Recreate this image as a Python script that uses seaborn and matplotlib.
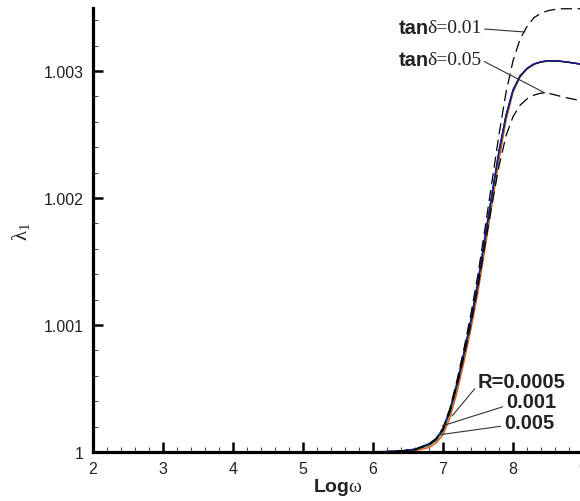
import matplotlib
matplotlib.use("Agg")
import matplotlib.pyplot as plt
import seaborn as sns
from matplotlib.ticker import MultipleLocator, FixedLocator, FixedFormatter

# ---------------- data ----------------
log_omega = [2.0, 3.0, 4.0, 5.0, 5.5, 6.0, 6.2, 6.4, 6.6, 6.8,
             6.9, 7.0, 7.1, 7.2, 7.3, 7.4, 7.5, 7.6, 7.7, 7.8,
             7.9, 8.0, 8.1, 8.2, 8.3, 8.4, 8.5, 8.6, 8.7, 8.8, 8.9, 9.0]

lam_black = [1.0, 1.0, 1.0, 1.0, 1.0, 1.000001, 1.000003, 1.000008, 1.00002, 1.00006,
             1.0001, 1.00018, 1.00033, 1.00054, 1.00078, 1.00104, 1.00134, 1.00169, 1.00203, 1.00237,
             1.00265, 1.00285, 1.00296, 1.00302, 1.003055, 1.003072, 1.00308, 1.00308, 1.003075, 1.003068, 1.00306, 1.00305]
lam_R0005 = [1.0, 1.0, 1.0, 1.0, 1.0, 1.000002, 1.000004, 1.000009, 1.000023, 1.000066,
             1.000105, 1.000185, 1.000335, 1.000545, 1.000785, 1.001045, 1.001345, 1.001695, 1.002035, 1.002372,
             1.002652, 1.002851, 1.002961, 1.003021, 1.003056, 1.003073, 1.003081, 1.003081, 1.003076, 1.003069, 1.003061, 1.003051]
lam_R001 = [1.0, 1.0, 1.0, 1.0, 1.0, 1.000001, 1.000002, 1.000006, 1.000016, 1.00005,
            1.000088, 1.000162, 1.000305, 1.00051, 1.00075, 1.00101, 1.001305, 1.001655, 1.002, 1.002345,
            1.002635, 1.002843, 1.002957, 1.003018, 1.003054, 1.003071, 1.003079, 1.00308, 1.003075, 1.003068, 1.00306, 1.00305]
lam_R005 = [1.0, 1.0, 1.0, 1.0, 1.0, 1.0, 1.000001, 1.000003, 1.00001, 1.000035,
            1.00007, 1.000135, 1.00027, 1.00047, 1.00071, 1.00097, 1.00126, 1.0016, 1.00195, 1.0023,
            1.00261, 1.00283, 1.00295, 1.003015, 1.003052, 1.00307, 1.003078, 1.003079, 1.003074, 1.003067, 1.003059, 1.003049]
lam_tan001 = [1.0, 1.0, 1.0, 1.0, 1.0, 1.000001, 1.000003, 1.000008, 1.000021, 1.000062,
              1.000105, 1.00019, 1.000345, 1.000565, 1.000815, 1.00109, 1.0014, 1.00176, 1.00213, 1.0025,
              1.00283, 1.00308, 1.00325, 1.00335, 1.00342, 1.003455, 1.003475, 1.003485, 1.00349, 1.00349, 1.00349, 1.00349]
lam_tan005 = [1.0, 1.0, 1.0, 1.0, 1.0, 1.000001, 1.000003, 1.000008, 1.000019, 1.000058,
              1.000096, 1.000172, 1.000318, 1.00052, 1.000755, 1.00101, 1.0013, 1.00163, 1.00195, 1.00225,
              1.00249, 1.00264, 1.00273, 1.00278, 1.00281, 1.002826, 1.002825, 1.002812, 1.002798, 1.002785, 1.002774, 1.002764]

x_ticks = [2, 3, 4, 5, 6, 7, 8, 9]
x_tick_labels = ["2", "3", "4", "5", "6", "7", "8", "9"]
y_ticks = [1.0, 1.001, 1.002, 1.003]
y_tick_labels = ["1", "1.001", "1.002", "1.003"]

# ---------------- style ----------------
sns.set_theme(style="ticks")
plt.rcParams["font.family"] = ["Liberation Sans", "DejaVu Sans"]
plt.rcParams["mathtext.fontset"] = "custom"
plt.rcParams["mathtext.rm"] = "Liberation Serif"
plt.rcParams["mathtext.bf"] = "Liberation Sans:bold"
plt.rcParams["mathtext.it"] = "Liberation Serif:italic"

fig = plt.figure(figsize=(5.8, 5.02), dpi=100)
ax = fig.add_axes([93 / 580, 49 / 502, 490 / 580, 444.5 / 502])

solid = [(lam_R005, "#ff4a10"), (lam_R001, "#10a050"), (lam_black, "black"), (lam_R0005, "#1a1a9a")]
for ys, col in solid:
    sns.lineplot(x=log_omega, y=ys, color=col, lw=1.0, ax=ax, estimator=None, sort=False)
for ys in (lam_tan001, lam_tan005):
    sns.lineplot(x=log_omega, y=ys, color="black", lw=0.9, ax=ax, estimator=None, sort=False,
                 linestyle=(0, (9, 4.5)))

ax.set_xlim(2, 9)
ax.set_ylim(1.0, 1.0035)
sns.despine(ax=ax)
for s in ("left", "bottom"):
    ax.spines[s].set_linewidth(2.3)
    ax.spines[s].set_color("black")

ax.xaxis.set_major_locator(FixedLocator(x_ticks))
ax.xaxis.set_major_formatter(FixedFormatter(x_tick_labels))
ax.yaxis.set_major_locator(FixedLocator(y_ticks))
ax.yaxis.set_major_formatter(FixedFormatter(y_tick_labels))
ax.xaxis.set_minor_locator(MultipleLocator(0.2))
ax.yaxis.set_minor_locator(MultipleLocator(0.0002))
ax.tick_params(which="major", direction="in", length=7, width=1.8, color="black",
               labelsize=11.5, labelcolor="#222222")
ax.tick_params(which="minor", direction="in", length=3.5, width=0.7, color="#444444")
ax.tick_params(axis="x", which="major", pad=6.3)
ax.tick_params(axis="y", which="major", pad=7)

ax.set_xlabel(r"$\mathbf{Log}\mathrm{\omega}$", fontsize=14, labelpad=0, color="#222222")
ax.set_ylabel(r"$\mathrm{\lambda}_{\mathrm{1}}$", fontsize=15, color="#222222")
ax.yaxis.set_label_coords(-0.125, 0.497)

# ---------------- annotations ----------------
lead = dict(arrowstyle="-", color="#333333", lw=0.8, shrinkA=0, shrinkB=0)
for ytxt, label, xy in [(1.003339, "δ=0.01", (8.171, 1.003307)),
                        (1.003094, "δ=0.05", (8.457, 1.002827))]:
    ax.text(6.80, ytxt, "tan", ha="right", va="center", fontsize=14.5,
            fontweight="bold", color="#222222")
    ax.annotate(label, xy=xy, xytext=(6.771, ytxt), ha="left", va="center",
                fontsize=14, family="Liberation Serif", color="#222222",
                arrowprops=dict(lead, relpos=(1.0, 0.45)))

for label, txt_xy, pt in [("R=0.0005", (7.5, 1.000559), (7.129, 1.000283)),
                          ("0.001", (7.9, 1.000394), (6.986, 1.000205)),
                          ("0.005", (7.871, 1.000236), (6.929, 1.000134))]:
    ax.annotate(label, xy=pt, xytext=txt_xy, ha="left", va="center",
                fontsize=14.5, fontweight="bold", color="#222222",
                arrowprops=dict(lead, relpos=(0.0, 0.3)))

fig.savefig("out.png", dpi=100)
